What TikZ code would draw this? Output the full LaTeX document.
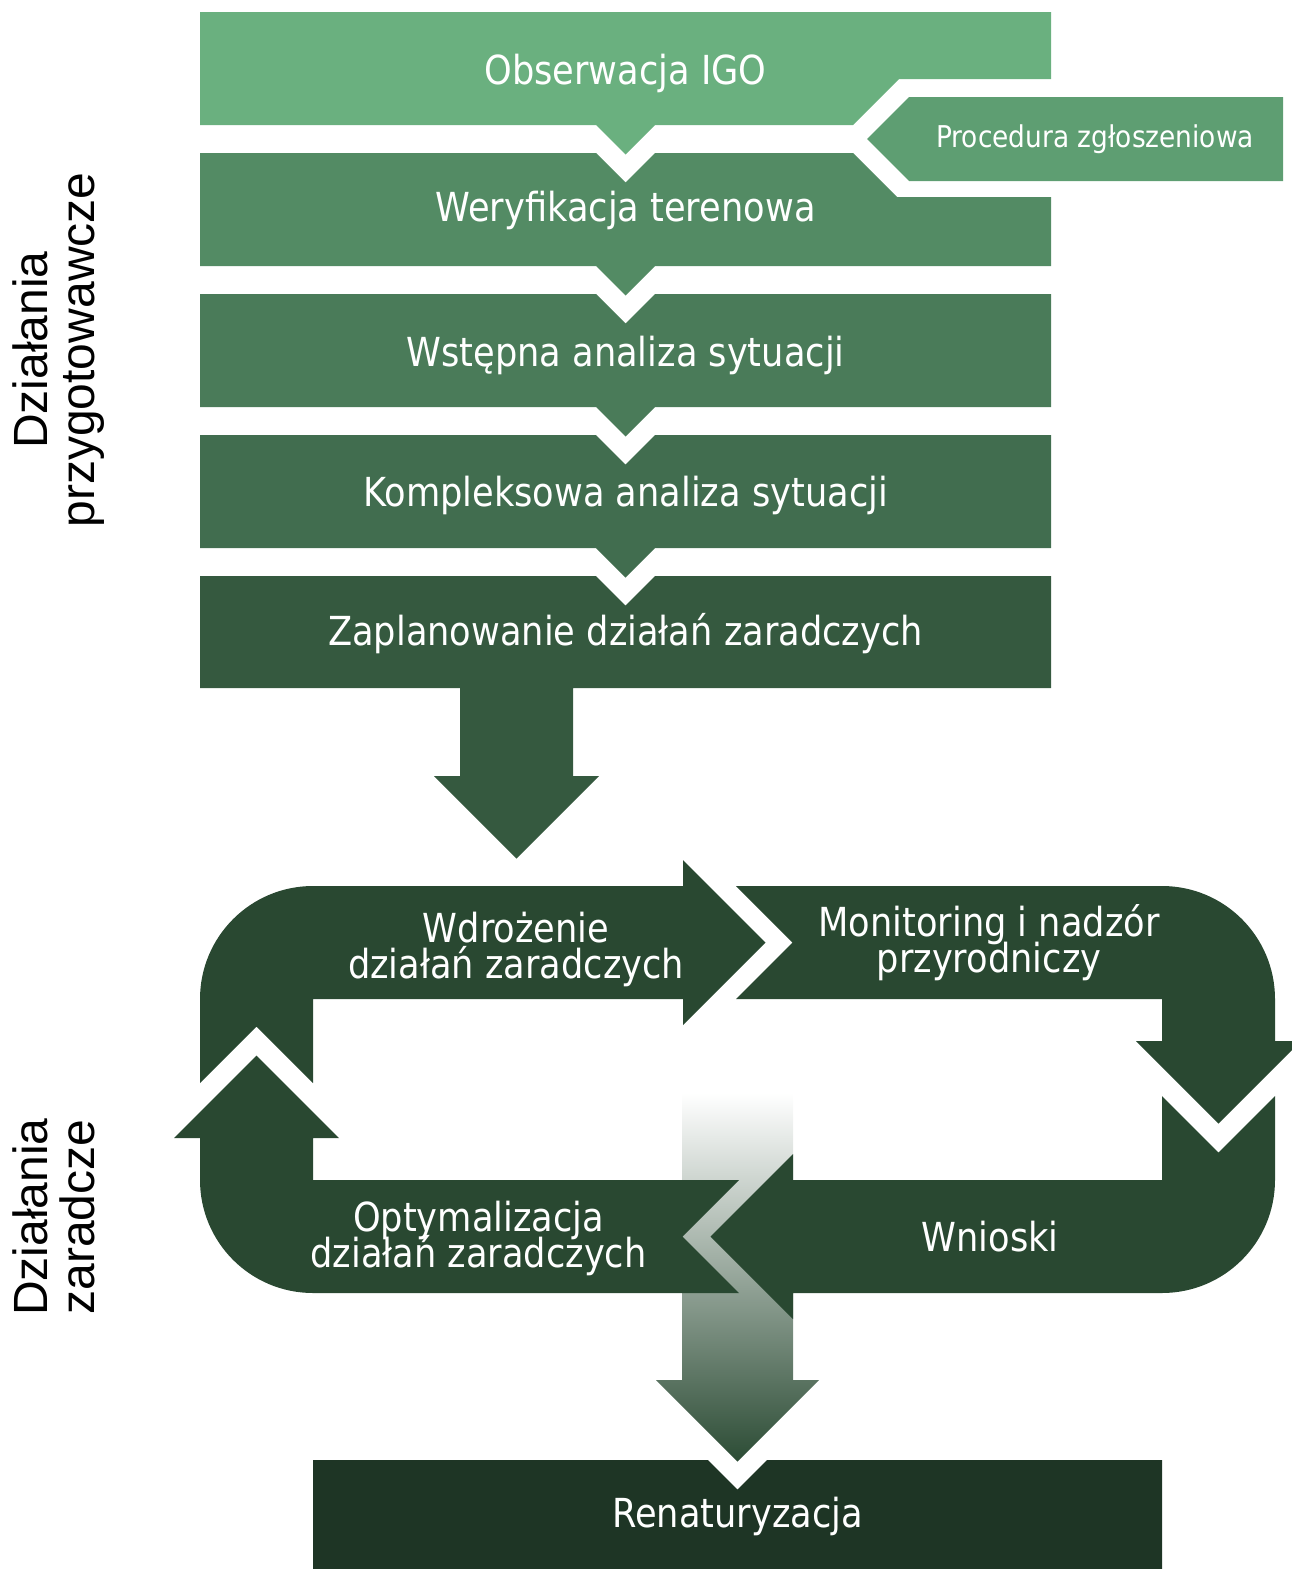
\documentclass[tikz,border=0pt]{standalone}
\usepackage{fontspec}
\newfontfamily\boxfont{DejaVu Sans}[FakeStretch=0.88]
\newfontfamily\labfont{Liberation Sans}
\definecolor{cA}{HTML}{6AB07F}
\definecolor{cProc}{HTML}{5E9E72}
\definecolor{cB}{HTML}{538B64}
\definecolor{cC}{HTML}{4A7B59}
\definecolor{cD}{HTML}{416D4F}
\definecolor{cE}{HTML}{35593F}
\definecolor{cLoop}{HTML}{294831}
\definecolor{cRen}{HTML}{1E3525}
\definecolor{cGrad}{HTML}{2C4C35}
\lineskiplimit=-\maxdimen
\begin{document}
\begin{tikzpicture}[x=1pt,y=-1pt,
  boxtext/.style={text=white, font={\boxfont\fontsize{40}{36}\selectfont\lineskiplimit=-\maxdimen}, inner sep=0pt, anchor=base, align=center},
  proctext/.style={boxtext, font={\boxfont\fontsize{30}{30}\selectfont}},
  sidelabel/.style={text=black, font={\labfont\fontsize{48}{47}\selectfont\lineskiplimit=-\maxdimen}, rotate=90, align=center, inner sep=0pt, anchor=center}]
\useasboundingbox (0,0) rectangle (1292,1569);
\clip (0,0) rectangle (1292,1569);
% --- preparatory boxes ---
\fill[cA] (200,12) -- (1051,12) -- (1051,79) -- (899,79) -- (853,125) -- (655,125) -- (625.5,154.5) -- (596,125) -- (200,125) -- cycle;
\fill[cProc] (909,97) -- (1283,97) -- (1283,181) -- (909,181) -- (867,139) -- cycle;
\fill[cB] (200,153) -- (596,153) -- (625.5,182.5) -- (655,153) -- (853,153) -- (897,197) -- (1051,197) -- (1051,266) -- (655,266) -- (625.5,295.5) -- (596,266) -- (200,266) -- cycle;
\fill[cC] (200,294) -- (596,294) -- (625.5,323.5) -- (655,294) -- (1051,294) -- (1051,407) -- (655,407) -- (625.5,436.5) -- (596,407) -- (200,407) -- cycle;
\fill[cD] (200,435) -- (596,435) -- (625.5,464.5) -- (655,435) -- (1051,435) -- (1051,548) -- (655,548) -- (625.5,577.5) -- (596,548) -- (200,548) -- cycle;
\fill[cE] (200,576) -- (596,576) -- (625.5,605.5) -- (655,576) -- (1051,576) -- (1051,688) -- (573,688) -- (573,776) -- (599,776) -- (516.5,858.5) -- (434,776) -- (460,776) -- (460,688) -- (200,688) -- cycle;
% --- gradient arrow ---
\shade[top color=white, bottom color=cGrad] (682,1093) -- (793,1093) -- (793,1380) -- (819,1380) -- (737.5,1461.5) -- (656,1380) -- (682,1380) -- cycle;
% --- loop ---
\fill[cLoop] (200,1083) -- (200,999) arc[start angle=180, end angle=90, radius=113pt] -- (683,886) -- (683,860) -- (765.5,942.5) -- (683,1025) -- (683,999) -- (313,999) -- (313,1083) -- (256.5,1026.5) -- cycle;
\fill[cLoop] (736,886) -- (1162,886) arc[start angle=90, end angle=0, radius=113pt] -- (1275,1041) -- (1301,1041) -- (1218.5,1123.5) -- (1136,1041) -- (1162,1041) -- (1162,999) -- (736,999) -- (792.5,942.5) -- cycle;
\fill[cLoop] (1162,1096) -- (1218.5,1152.5) -- (1275,1096) -- (1275,1180) arc[start angle=0, end angle=-90, radius=113pt] -- (793,1293) -- (793,1319) -- (710.5,1236.5) -- (793,1154) -- (793,1180) -- (1162,1180) -- cycle;
\fill[cLoop] (739,1180) -- (313,1180) -- (313,1138) -- (339,1138) -- (256.5,1055.5) -- (174,1138) -- (200,1138) -- (200,1180) arc[start angle=180, end angle=270, radius=113pt] -- (739,1293) -- (682.5,1236.5) -- cycle;
% --- final box ---
\fill[cRen] (313,1460) -- (708,1460) -- (737.5,1489.5) -- (767,1460) -- (1162,1460) -- (1162,1569) -- (313,1569) -- cycle;
% --- texts ---
\node[boxtext] (obs) at (625.5,84) {Obserwacja IGO};
\node[proctext] (proc) at (1095,147.5) {Procedura zgłoszeniowa};
\node[boxtext] (wer) at (625.5,221) {Weryfikacja terenowa};
\node[boxtext] (wst) at (625.5,366) {Wstępna analiza sytuacji};
\node[boxtext] (komp) at (625.5,506) {Kompleksowa analiza sytuacji};
\node[boxtext] (zapl) at (625.5,645) {Zaplanowanie działań zaradczych};
\node[boxtext] (wdr) at (516,978) {Wdrożenie\\działań zaradczych};
\node[boxtext] (mon) at (989,972) {Monitoring i nadzór\\przyrodniczy};
\node[boxtext] (wn) at (990,1251) {Wnioski};
\node[boxtext] (opt) at (478.5,1267) {Optymalizacja\\działań zaradczych};
\node[boxtext] (ren) at (737.5,1527) {Renaturyzacja};
\node[sidelabel] (lab1) at (59,350) {Działania\\przygotowawcze};
\node[sidelabel] (lab2) at (54,1217) {Działania\\zaradcze};
\end{tikzpicture}
\end{document}
